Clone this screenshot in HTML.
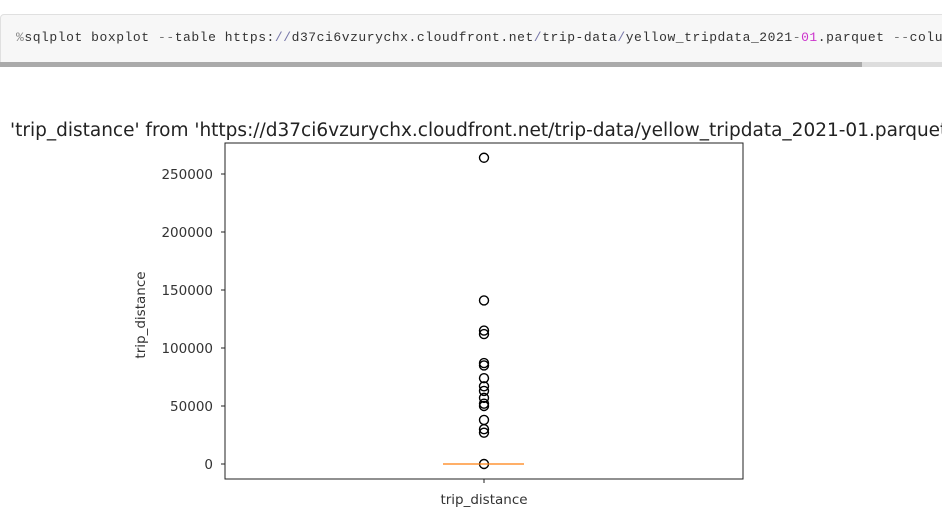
<!DOCTYPE html>
<html><head><meta charset="utf-8"><style>
body{margin:0;width:942px;height:521px;background:#fff;overflow:hidden;font-family:"DejaVu Sans",sans-serif}
#cell{position:absolute;left:0;top:14px;width:960px;height:52px;background:#f7f7f7;border:1px solid #e0e0e0;border-radius:4px;box-sizing:border-box}
#code{position:absolute;left:16px;top:30px;font-family:"Liberation Mono",monospace;font-size:13px;color:#333;white-space:nowrap;letter-spacing:0.55px}
#scroll{position:absolute;left:0;top:62px;width:862px;height:5px;background:#aaa}
#scroll2{position:absolute;left:862px;top:62px;width:80px;height:5px;background:#ddd}
</style></head><body>
<div id="cell"></div>
<div id="code"><span style="color:#888">%</span>sqlplot boxplot <span style="color:#777">--</span>table https:<span style="color:#77a">//</span>d37ci6vzurychx.cloudfront.net<span style="color:#77a">/</span>trip-data<span style="color:#77a">/</span>yellow_tripdata_2021<span style="color:#777">-</span><span style="color:#c3c">01</span>.parquet <span style="color:#777">--</span>column</div>
<div id="scroll"></div>
<div id="scroll2"></div>
<svg id="chart" width="942" height="521" style="position:absolute;left:0;top:0"></svg>
<script>
const yTicks=[0,50000,100000,150000,200000,250000];
const outliers=[264000,141000,115000,112000,87000,85000,74000,67000,63000,57000,52000,50000,38000,30000,27000,0];
const median=[0];
const category=["trip_distance"];
const svg=document.getElementById('chart');const NS='http://www.w3.org/2000/svg';
const L=225,R=743,T=143,B=479;
function y(v){return 464-v*(290/250000);}
function mk(t,a,txt){const e=document.createElementNS(NS,t);for(const k in a)e.setAttribute(k,a[k]);if(txt!==undefined)e.textContent=txt;svg.appendChild(e);return e;}
const title=mk('text',{x:10,y:136,'font-size':18.5,fill:'#222','font-family':'DejaVu Sans, sans-serif'},"'trip_distance' from 'https://d37ci6vzurychx.cloudfront.net/trip-data/yellow_tripdata_2021-01.parquet'");


const frame=mk('rect',{x:L,y:T,width:R-L,height:B-T,fill:'none',stroke:'#222','stroke-width':1});


yTicks.forEach(v=>{const yy=y(v);
 const tk=mk('line',{x1:L-4,x2:L,y1:yy,y2:yy,stroke:'#222'});
 
 
 const lb=mk('text',{x:L-12,y:yy+5,'text-anchor':'end','font-size':13.5,fill:'#333'},String(v));
 
 });
const cx=484;
const xt=mk('line',{x1:cx,x2:cx,y1:B,y2:B+4,stroke:'#222'});


const xl=mk('text',{x:cx,y:B+25,'text-anchor':'middle','font-size':13.5,fill:'#333'},category[0]);


const yl=mk('text',{x:0,y:0,'text-anchor':'middle','font-size':13.5,fill:'#333',transform:`translate(145,315) rotate(-90)`},'trip_distance');


outliers.forEach(v=>{const c=mk('circle',{cx:cx,cy:y(v),r:4.5,fill:'none',stroke:'#000','stroke-width':1.4});
 
 });
const m=mk('line',{x1:cx-41,x2:cx+40,y1:y(median[0]),y2:y(median[0]),stroke:'#ff7f0e','stroke-width':1.3});


</script>
</body></html>
